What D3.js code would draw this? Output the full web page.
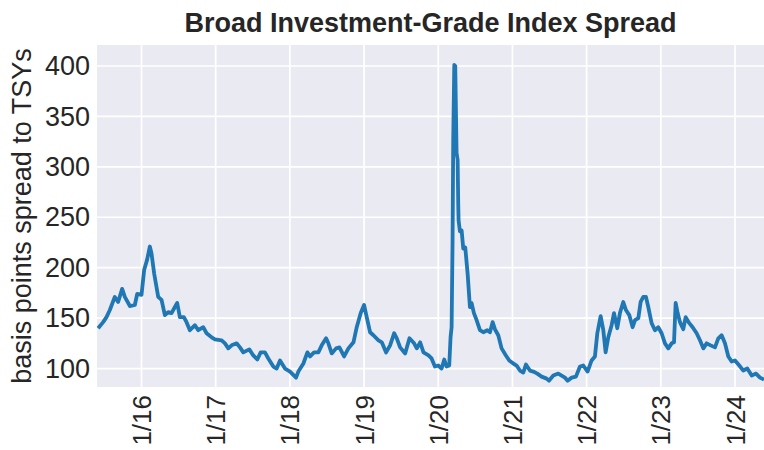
<!DOCTYPE html>
<html>
<head>
<meta charset="utf-8">
<script src="https://cdn.jsdelivr.net/npm/d3@7"></script>
<style>
  body { margin: 0; background: #fff; }
  text { font-family: "Liberation Sans", Arial, sans-serif; fill: #262626; }
</style>
</head>
<body>
<svg width="764" height="450"></svg>
<script>
// dates as decimal years, spread in basis points
let years = [
    2015.415, 2015.483, 2015.528, 2015.573, 2015.640, 2015.685, 2015.739, 2015.775, 2015.843, 2015.910,
    2015.942, 2016.000, 2016.036, 2016.076, 2016.112, 2016.135, 2016.171, 2016.225, 2016.270, 2016.315,
    2016.360, 2016.405, 2016.450, 2016.481, 2016.517, 2016.571, 2016.607, 2016.652, 2016.720, 2016.765,
    2016.832, 2016.877, 2016.945, 2016.990, 2017.080, 2017.125, 2017.170, 2017.215, 2017.282, 2017.327,
    2017.372, 2017.453, 2017.507, 2017.561, 2017.606, 2017.664, 2017.709, 2017.777, 2017.822, 2017.867,
    2017.934, 2018.002, 2018.056, 2018.083, 2018.114, 2018.182, 2018.236, 2018.272, 2018.326, 2018.384,
    2018.429, 2018.488, 2018.519, 2018.564, 2018.623, 2018.668, 2018.731, 2018.789, 2018.857, 2018.901,
    2018.955, 2019.000, 2019.036, 2019.081, 2019.126, 2019.194, 2019.239, 2019.297, 2019.351, 2019.405,
    2019.441, 2019.486, 2019.554, 2019.612, 2019.675, 2019.711, 2019.756, 2019.801, 2019.869, 2019.910,
    2019.955, 2020.000, 2020.045, 2020.081, 2020.112, 2020.148, 2020.166, 2020.180, 2020.193, 2020.202,
    2020.216, 2020.229, 2020.247, 2020.261, 2020.270, 2020.274, 2020.292, 2020.315, 2020.337, 2020.364,
    2020.396, 2020.427, 2020.449, 2020.481, 2020.517, 2020.562, 2020.607, 2020.661, 2020.697, 2020.733,
    2020.764, 2020.809, 2020.854, 2020.912, 2020.957, 2021.011, 2021.056, 2021.101, 2021.146, 2021.182,
    2021.236, 2021.281, 2021.335, 2021.393, 2021.461, 2021.492, 2021.551, 2021.618, 2021.663, 2021.708,
    2021.744, 2021.798, 2021.856, 2021.910, 2021.955, 2022.013, 2022.067, 2022.112, 2022.144, 2022.189,
    2022.225, 2022.256, 2022.292, 2022.337, 2022.369, 2022.413, 2022.449, 2022.494, 2022.530, 2022.575,
    2022.620, 2022.652, 2022.697, 2022.728, 2022.764, 2022.800, 2022.831, 2022.876, 2022.921, 2022.966,
    2023.011, 2023.056, 2023.101, 2023.146, 2023.178, 2023.200, 2023.227, 2023.258, 2023.303, 2023.335,
    2023.384, 2023.429, 2023.483, 2023.528, 2023.573, 2023.618, 2023.672, 2023.730, 2023.775, 2023.820,
    2023.865, 2023.910, 2023.955, 2024.000, 2024.058, 2024.112, 2024.166, 2024.225, 2024.283, 2024.337,
    2024.391
];
let spread = [
    140, 146, 151, 158, 171, 166, 179, 171, 162, 163,
    174, 173, 198, 208, 221, 214, 194, 171, 168, 153,
    156, 155, 161, 165, 151, 151, 146, 138, 143, 138,
    141, 135, 131, 129, 128, 125, 120, 123, 125, 121,
    116, 119, 113, 109, 116, 116, 110, 102, 100, 108,
    100, 97, 93, 91, 97, 105, 116, 112, 116, 116,
    123, 130, 125, 115, 120, 121, 112, 120, 126, 141,
    155, 163, 151, 136, 133, 128, 126, 116, 123, 135,
    130, 121, 115, 130, 125, 120, 126, 116, 113, 110,
    102, 103, 100, 109, 102, 103, 131, 141, 227, 327,
    401, 400, 314, 307, 261, 247, 236, 237, 219, 220,
    194, 161, 165, 155, 148, 138, 136, 138, 136, 146,
    139, 133, 120, 113, 108, 105, 103, 98, 96, 104,
    98, 97, 95, 92, 90, 88, 93, 95, 93, 91,
    88, 91, 92, 102, 103, 97, 108, 112, 135, 152,
    138, 116, 131, 143, 155, 140, 155, 166, 158, 153,
    141, 148, 150, 166, 171, 171, 161, 145, 138, 141,
    135, 125, 120, 125, 126, 165, 155, 146, 139, 151,
    145, 141, 135, 128, 120, 125, 123, 121, 130, 133,
    125, 112, 107, 108, 103, 98, 100, 93, 95, 91,
    89
];
let yTicks = [100, 150, 200, 250, 300, 350, 400];
let xTicks = [2016, 2017, 2018, 2019, 2020, 2021, 2022, 2023, 2024];
let xTickLabels = ["1/16", "1/17", "1/18", "1/19", "1/20", "1/21", "1/22", "1/23", "1/24"];

let data = years.map((t, i) => ({ t: t, v: spread[i] }));

let svg = d3.select('svg');
let margin = { left: 97, right: 0, top: 45, bottom: 63 };
let width = 764 - margin.left - margin.right;
let height = 450 - margin.top - margin.bottom;

let xScale = d3.scaleLinear()
    .domain([2015.40, 2024.391])
    .range([0, width]);

let yScale = d3.scaleLinear()
    .domain([81.7, 420.8])
    .range([height, 0]);

let g = svg.append('g')
    .attr('transform', 'translate(' + margin.left + ',' + margin.top + ')');

// seaborn darkgrid background
g.append('rect')
    .attr('width', width)
    .attr('height', height)
    .style('fill', '#EAEAF2');

g.append('g')
    .attr('class', 'grid-y')
    .selectAll('line').data(yTicks)
    .enter().append('line')
    .attr('x1', 0).attr('x2', width)
    .attr('y1', d => yScale(d)).attr('y2', d => yScale(d))
    .style('stroke', '#fff')
    .style('stroke-width', 1.7);

g.append('g')
    .attr('class', 'grid-x')
    .selectAll('line').data(xTicks)
    .enter().append('line')
    .attr('y1', 0).attr('y2', height)
    .attr('x1', d => xScale(d)).attr('x2', d => xScale(d))
    .style('stroke', '#fff')
    .style('stroke-width', 1.7);

// axes (labels only, like matplotlib darkgrid)
let yAxis = d3.axisLeft(yScale).tickValues(yTicks).tickSize(0).tickPadding(7);
let xAxis = d3.axisBottom(xScale).tickValues(xTicks).tickSize(0)
    .tickFormat((d, i) => xTickLabels[i]);

let ya = g.append('g').attr('class', 'y-axis').call(yAxis);
ya.select('.domain').remove();
ya.selectAll('text')
    .style('font-size', '27px')
    .style('font-family', '"Liberation Sans", Arial, sans-serif')
    .style('fill', '#262626');

let xa = g.append('g')
    .attr('class', 'x-axis')
    .attr('transform', 'translate(0,' + height + ')')
    .call(xAxis);
xa.select('.domain').remove();
xa.selectAll('text')
    .style('font-size', '26px')
    .style('font-family', '"Liberation Sans", Arial, sans-serif')
    .style('fill', '#262626')
    .style('text-anchor', 'end')
    .attr('dy', '0.35em')
    .attr('dx', '-8px')
    .attr('y', 0)
    .attr('x', 0)
    .attr('transform', 'rotate(-90)');

// the series
let line = d3.line()
    .x(d => xScale(d.t))
    .y(d => yScale(d.v));

g.append('path')
    .datum(data)
    .attr('d', line)
    .style('fill', 'none')
    .style('stroke', '#1f77b4')
    .style('stroke-width', 3.8)
    .style('stroke-linejoin', 'round');

// title and axis label
svg.append('text')
    .attr('x', margin.left + width / 2)
    .attr('y', 32)
    .style('text-anchor', 'middle')
    .style('font-size', '27px')
    .style('font-weight', 'bold')
    .text('Broad Investment-Grade Index Spread');

svg.append('text')
    .attr('transform', 'translate(31,' + (margin.top + height / 2) + ') rotate(-90)')
    .style('text-anchor', 'middle')
    .style('font-size', '27px')
    .text('basis points spread to TSYs');
</script>
</body>
</html>
